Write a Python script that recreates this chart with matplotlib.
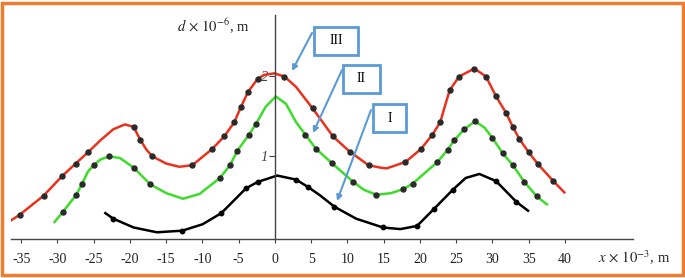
import matplotlib.pyplot as plt
from matplotlib.patches import Rectangle

# curve III (red)
x3 = [-36.4, -35.2, -31.9, -29.4, -27.5, -25.8, -24.1, -22.3, -20.7, -19.5, -18.6, -17.7,
      -16.9, -15.0, -13.2, -11.4, -8.7, -7.0, -5.6, -4.7, -3.7, -2.4, -1.5, -0.1, 1.3,
      2.9, 5.2, 8.0, 10.3, 12.9, 14.5, 15.4, 18.0, 20.1, 21.7, 22.8, 23.5, 24.1, 25.4,
      27.5, 29.1, 30.5, 31.9, 32.8, 33.7, 35.0, 36.3, 38.4, 39.9]
y3 = [0.19, 0.26, 0.50, 0.74, 0.90, 1.04, 1.19, 1.33, 1.39, 1.36, 1.20, 1.07,
      0.99, 0.90, 0.86, 0.88, 1.08, 1.24, 1.42, 1.61, 1.80, 1.96, 2.01, 2.03, 1.99,
      1.86, 1.59, 1.24, 1.05, 0.88, 0.85, 0.84, 0.92, 1.08, 1.26, 1.42, 1.64, 1.82, 1.99,
      2.09, 1.99, 1.74, 1.53, 1.36, 1.21, 1.04, 0.89, 0.68, 0.54]
dots3 = [1, 2, 3, 4, 5, 9, 10, 12, 15, 16, 17, 18, 19, 20, 21, 24, 26, 27, 28, 29,
         32, 33, 34, 35, 37, 38, 39, 40, 41, 42, 43, 44, 45, 46, 47]

# curve II (green)
x2 = [-30.4, -29.3, -27.4, -26.6, -25.8, -25.0, -24.1, -22.9, -21.4, -19.5, -17.2, -15.0,
      -12.7, -10.4, -7.6, -6.2, -5.2, -3.6, -2.6, -1.3, 0.1, 1.5, 2.9, 4.2, 5.7, 7.8,
      10.8, 12.3, 14.0, 16.0, 17.7, 19.0, 22.4, 23.8, 24.7, 26.1, 27.6, 28.9, 30.0, 31.4,
      32.8, 34.4, 36.1, 37.5]
y2 = [0.17, 0.29, 0.51, 0.65, 0.80, 0.88, 0.95, 0.99, 0.97, 0.85, 0.64, 0.53,
      0.46, 0.52, 0.72, 0.88, 1.06, 1.26, 1.40, 1.61, 1.74, 1.65, 1.42, 1.26, 1.08, 0.91,
      0.67, 0.57, 0.51, 0.53, 0.58, 0.65, 0.92, 1.07, 1.19, 1.33, 1.43, 1.35, 1.22, 1.03,
      0.88, 0.67, 0.49, 0.39]
dots2 = [1, 2, 3, 5, 7, 9, 10, 14, 15, 16, 17, 18, 23, 24, 25, 26, 28, 30, 31, 32,
         33, 34, 35, 36, 38, 39, 40, 41, 42]

# curve I (black)
x1 = [-23.4, -22.3, -19.5, -16.3, -12.8, -10.0, -7.4, -4.0, -2.4, 0.3, 2.9, 4.5, 6.1,
      8.2, 11.2, 14.9, 17.3, 19.6, 21.9, 24.5, 26.3, 28.2, 30.5, 31.9, 33.3, 34.9]
y1 = [0.28, 0.21, 0.10, 0.04, 0.06, 0.14, 0.28, 0.59, 0.67, 0.75, 0.70, 0.61, 0.51,
      0.36, 0.21, 0.10, 0.08, 0.12, 0.33, 0.57, 0.72, 0.77, 0.68, 0.55, 0.42, 0.31]
dots1 = [1, 4, 6, 7, 8, 10, 11, 13, 15, 17, 18, 19, 22, 24]

xticks = list(range(-35, 45, 5))

plt.rcParams["font.family"] = ["Liberation Serif", "DejaVu Serif"]
plt.rcParams["mathtext.fontset"] = "stix"

W, H = 685, 278
fig = plt.figure(figsize=(W / 100, H / 100), dpi=100)

# axes box in pixel terms: x from 11 to 633, y from 15 to 239
ax = fig.add_axes([11 / W, (H - 239) / H, 622 / W, 224 / H])
ax.set_xlim((11 - 275) / 7.25, (633 - 275) / 7.25)
ax.set_ylim(-0.044, 2.76)

dot = dict(marker="o", ms=3.6, mfc="#2a2a2a", mec="#2a2a2a", alpha=1.0)
ax.plot(x3, y3, color="#e8321e", lw=1.8, markevery=dots3, zorder=2, **dot)
ax.plot(x2, y2, color="#3ddc2a", lw=1.8, markevery=dots2, zorder=2, **dot)
ax.plot(x1, y1, color="black", lw=1.8, markevery=dots1, zorder=2,
        marker="o", ms=3.2, mfc="black", mec="black")

for s in ["top", "right"]:
    ax.spines[s].set_visible(False)
ax.spines["left"].set_position(("data", 0))
ax.spines["left"].set_color("#444444")
ax.spines["bottom"].set_color("#444444")
ax.spines["left"].set_linewidth(1.0)
ax.spines["bottom"].set_linewidth(1.0)

ax.set_xticks(xticks)
ax.set_xticklabels([str(t) for t in xticks])
ax.tick_params(axis="x", direction="out", length=3, width=0.8, labelsize=10,
               pad=7, colors="#444444", labelcolor="#222222")
ax.set_yticks([1, 2])
ax.set_yticklabels(["1", "2"], fontstyle="italic")
ax.tick_params(axis="y", direction="out", length=4, width=0.8, labelsize=10.5,
               pad=1, colors="#444444", labelcolor="#444444")

fig.text(213 / W, 1 - 26 / H, r"$d\,\times\,10^{-6}$, m", fontsize=10.5,
         ha="center", va="center", color="#222222")
fig.text(634 / W, 1 - 258 / H, r"$x\,\times\,10^{-3}$, m", fontsize=10.5,
         ha="center", va="center", color="#222222")

# labels with arrows (pixel coordinates)
blue = "#5b9bd5"
boxes = [("III", 314, 27, 44, 28, (312, 33), (292, 71)),
         ("II", 343, 65, 37, 28, (342, 70), (313, 133)),
         ("I", 373, 104, 33, 28, (371, 110), (337, 201))]
for txt, bx, by, bw, bh, p0, p1 in boxes:
    fig.patches.append(Rectangle((bx / W, 1 - (by + bh) / H), bw / W, bh / H,
                                 transform=fig.transFigure, fill=True, facecolor="white",
                                 edgecolor=blue, lw=2.0, zorder=5))
    fig.text((bx + bw / 2) / W, 1 - (by + bh / 2) / H, txt, fontsize=10,
             ha="center", va="center", zorder=6)
    fig.add_artist(plt.Annotation("", xy=(p1[0] / W, 1 - p1[1] / H),
                                  xytext=(p0[0] / W, 1 - p0[1] / H),
                                  xycoords="figure fraction", textcoords="figure fraction",
                                  arrowprops=dict(arrowstyle="-|>", color=blue, lw=1.5,
                                                  mutation_scale=8, shrinkA=0, shrinkB=0)))

# orange frame
fig.patches.append(Rectangle((2 / W, 3 / H), 681 / W, 272 / H, transform=fig.transFigure,
                             fill=False, edgecolor="#ed7d31", lw=2.5, zorder=10))

fig.savefig("out.png", dpi=100)
